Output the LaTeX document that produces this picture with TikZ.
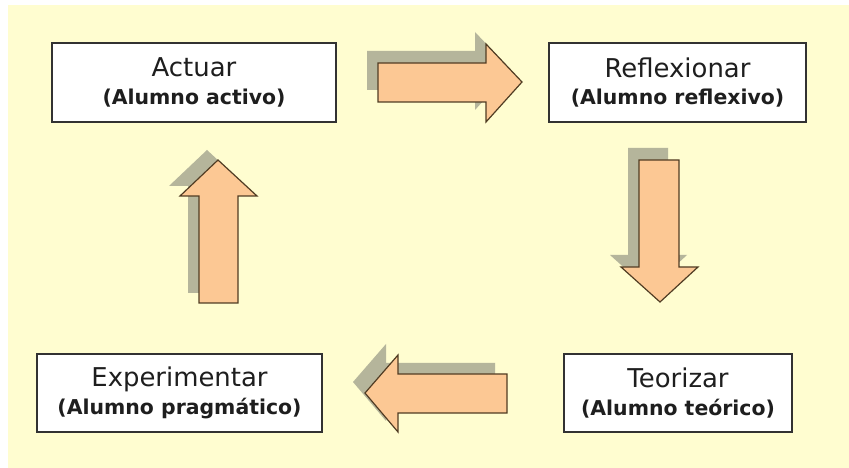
\documentclass[tikz,border=0pt]{standalone}
\usepackage{fontspec}
\setmainfont{DejaVu Sans}
\definecolor{bg}{RGB}{255,253,208}
\definecolor{arrowfill}{RGB}{252,200,148}
\definecolor{shadowc}{RGB}{181,181,155}
\definecolor{arrowline}{RGB}{80,60,35}
\definecolor{boxline}{RGB}{50,50,50}
\definecolor{txt}{RGB}{30,30,30}
\newcommand{\subt}[1]{{\fontsize{20.5}{28}\selectfont\bfseries #1}}
\begin{document}
\begin{tikzpicture}[x=1bp,y=-1bp,
  box/.style={draw=boxline, line width=1.4pt, fill=white, inner sep=0pt, align=center, text=txt,
    font=\fontsize{26}{28}\selectfont},
  blockarrow/.style={draw=arrowline, line width=1.2pt, fill=arrowfill, line join=miter},
  arrowshadow/.style={fill=shadowc}]
\useasboundingbox (0,0) rectangle (849,468);
\fill[white] (-5,-5) rectangle (860,480);
\fill[bg] (8,5) rectangle (860,480);
% boxes
\node[box, minimum width=284bp, minimum height=79bp] (act) at (194,82.5)
  {Actuar\\\subt{(Alumno activo)}};
\node[box, minimum width=257bp, minimum height=79bp] (ref) at (677.5,82.5)
  {Reflexionar\\\subt{(Alumno reflexivo)}};
\node[box, minimum width=285bp, minimum height=78bp] (exp) at (179.5,393)
  {Experimentar\\\subt{(Alumno pragm\'atico)}};
\node[box, minimum width=228bp, minimum height=78bp] (teo) at (678,393)
  {Teorizar\\\subt{(Alumno te\'orico)}};
% right arrow (Actuar -> Reflexionar)
\begin{scope}[shift={(-11,-12)}]
\fill[arrowshadow] (378,63) -- (486,63) -- (486,44) -- (522,82) -- (486,122) -- (486,102) -- (378,102) -- cycle;
\end{scope}
\path[blockarrow] (378,63) -- (486,63) -- (486,44) -- (522,82) -- (486,122) -- (486,102) -- (378,102) -- cycle;
% down arrow (Reflexionar -> Teorizar)
\begin{scope}[shift={(-11,-12)}]
\fill[arrowshadow] (639,160) -- (679,160) -- (679,267) -- (698,267) -- (660,302) -- (621,267) -- (639,267) -- cycle;
\end{scope}
\path[blockarrow] (639,160) -- (679,160) -- (679,267) -- (698,267) -- (660,302) -- (621,267) -- (639,267) -- cycle;
% left arrow (Teorizar -> Experimentar)
\begin{scope}[shift={(-12,-11)}]
\fill[arrowshadow] (507,374) -- (398,374) -- (398,355) -- (365,393) -- (398,432) -- (398,413) -- (507,413) -- cycle;
\end{scope}
\path[blockarrow] (507,374) -- (398,374) -- (398,355) -- (365,393) -- (398,432) -- (398,413) -- (507,413) -- cycle;
% up arrow (Experimentar -> Actuar)
\begin{scope}[shift={(-11,-10)}]
\fill[arrowshadow] (199,303) -- (238,303) -- (238,196) -- (257,196) -- (218,160) -- (180,196) -- (199,196) -- cycle;
\end{scope}
\path[blockarrow] (199,303) -- (238,303) -- (238,196) -- (257,196) -- (218,160) -- (180,196) -- (199,196) -- cycle;
\end{tikzpicture}
\end{document}
